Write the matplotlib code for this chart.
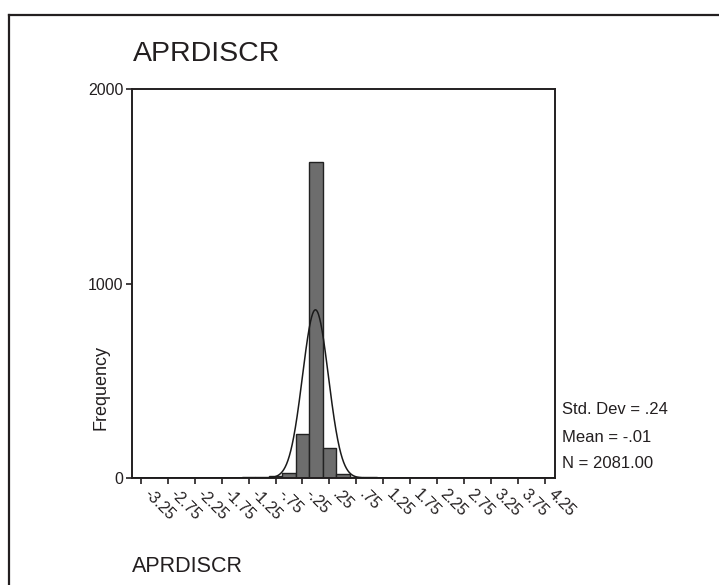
import numpy as np
import matplotlib
matplotlib.use("Agg")
import matplotlib.pyplot as plt
from matplotlib.lines import Line2D

plt.rcParams["font.family"] = ["Liberation Sans", "DejaVu Sans"]

# Histogram of APRDISCR (bin width .25)
bin_centers = [-2.75, -2.5, -1.25, -1.0, -0.75, -0.5, -0.25, 0.0, 0.25, 0.5, 0.75, 1.0, 1.25]
bin_counts = [1, 1, 3, 7, 10, 26, 225, 1623, 155, 20, 6, 3, 1]
bin_width = 0.25

tick_vals = [-3.25, -2.75, -2.25, -1.75, -1.25, -0.75, -0.25, 0.25,
             0.75, 1.25, 1.75, 2.25, 2.75, 3.25, 3.75, 4.25]
tick_labels = ["-3.25", "-2.75", "-2.25", "-1.75", "-1.25", "-.75", "-.25", ".25",
               ".75", "1.25", "1.75", "2.25", "2.75", "3.25", "3.75", "4.25"]

std_dev = 0.24
mean = -0.01
n_total = 2081.00

W, H = 719, 585
fig = plt.figure(figsize=(W / 100, H / 100), dpi=100)
fig.patch.set_facecolor("white")

# outer frame (top and left edges only)
fig.add_artist(Line2D([9 / W, 1.0], [1 - 15 / H, 1 - 15 / H], color="#231f20", lw=1.6,
                      transform=fig.transFigure))
fig.add_artist(Line2D([9 / W, 9 / W], [0.0, 1 - 15 / H], color="#231f20", lw=1.6,
                      transform=fig.transFigure))

ax = fig.add_axes([132 / W, (H - 478) / H, (555 - 132) / W, (478 - 89) / H])

ax.bar(bin_centers, bin_counts, width=bin_width, color="#6d6d6d",
       edgecolor="#222222", linewidth=1.0, zorder=2)

# fitted normal curve
xs = np.linspace(-3.41, 4.43, 1200)
ys = n_total * bin_width / (std_dev * np.sqrt(2 * np.pi)) * np.exp(-0.5 * ((xs - mean) / std_dev) ** 2)
ax.plot(xs, ys, color="#1a1a1a", lw=1.1, zorder=3)

ax.set_xlim(-3.41, 4.43)
ax.set_ylim(0, 2000)
ax.set_yticks([0, 1000, 2000])
ax.set_yticklabels(["0", "1000", "2000"], fontsize=11.5, color="#231f20")
ax.set_xticks(tick_vals)
ax.set_xticklabels(tick_labels, fontsize=11.5, rotation=-45, ha="left", va="top",
                   color="#231f20")
ax.tick_params(direction="out", length=4, width=1.2, color="#231f20", pad=2)
for s in ax.spines.values():
    s.set_linewidth(1.4)
    s.set_color("#231f20")

fig.text(133 / W, 1 - 54 / H, "APRDISCR", fontsize=20.5, ha="left", va="center",
         color="#231f20")
fig.text(101 / W, 1 - 388 / H, "Frequency", fontsize=13, rotation=90, ha="center",
         va="center", color="#231f20")
fig.text(132 / W, 1 - 567 / H, "APRDISCR", fontsize=15.5, ha="left", va="center",
         color="#231f20")

stats = [f"Std. Dev = {std_dev:.2f}".replace("0.", "."),
         f"Mean = {mean:.2f}".replace("0.", "."),
         f"N = {n_total:.2f}"]
for txt, yp in zip(stats, [409, 437, 464]):
    fig.text(562 / W, 1 - yp / H, txt, fontsize=12, ha="left", va="center",
             color="#231f20")

fig.savefig("out.png", dpi=100)
